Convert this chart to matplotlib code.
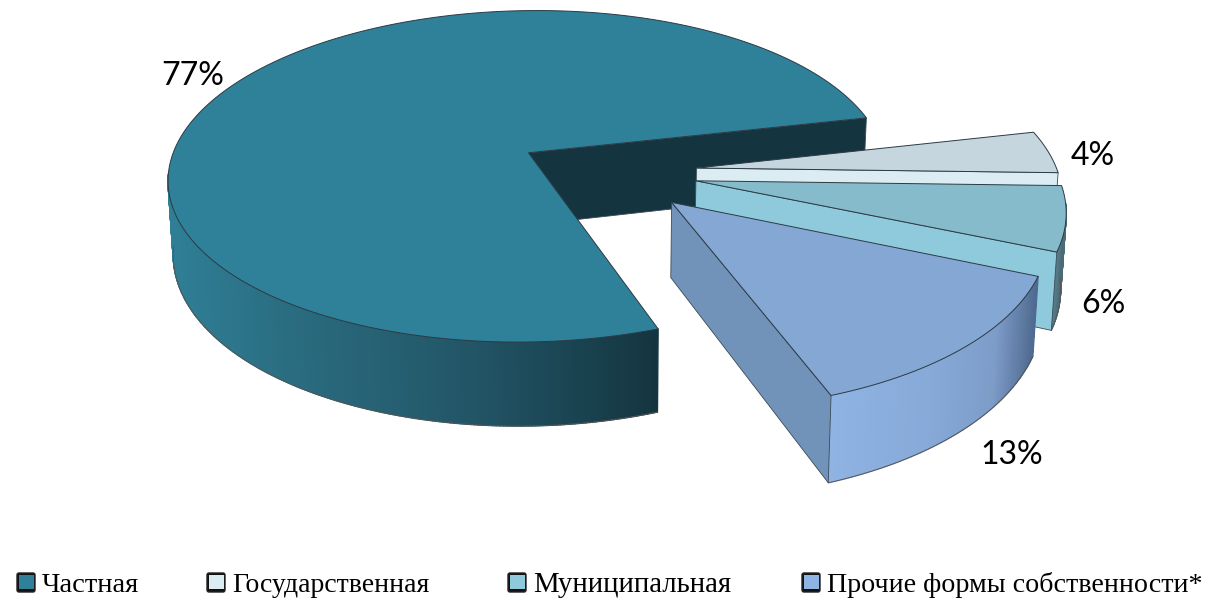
import numpy as np
import matplotlib
matplotlib.use('agg')
import matplotlib.pyplot as plt
from matplotlib.colors import LinearSegmentedColormap
from matplotlib.patches import Polygon, FancyBboxPatch

# data
categories = ['Частная', 'Государственная', 'Муниципальная', 'Прочие формы собственности*']
values = [77, 4, 6, 13]
labels = ['77%', '4%', '6%', '13%']

# pie geometry (camera fitted to the picture, pixels)
W, H = 1220, 605
CX, CY = 526.5, 152.0
A, B, K = 355.0, 162.2, 0.142
SHEAR = 10.0
DEPTH = 72.0
VX, SHRINK = 600.0, 0.988
START = 290.0
EXPLODE = 0.243
CENTER = (0.219, -0.121)
SLICE_SHIFT = [0.0, 0.014, 0.014, 0.014]

top_cols = ['#2f8099', '#c5d6de', '#85bbca', '#84a7d4']
cut_cols = ['#14353f', '#dbedf3', '#8fcadc', '#7293b9']
legend_cols = ['#2f8099', '#dbedf3', '#8fcadc', '#8fb3e2']
rim_stops = [
    [(0.0, '#2f7f96'), (0.25, '#2a6c80'), (0.62, '#225566'), (1.0, '#143540')],
    [(0.0, '#b5c6cc'), (1.0, '#8fa2aa')],
    [(0.0, '#5a7f8c'), (1.0, '#4a6a76')],
    [(0.0, '#8fb3e2'), (0.5, '#86a9d8'), (0.8, '#7d9cc8'), (1.0, '#4f6a90')],
]
label_pos = [(193, 85), (1093, 165), (1103, 313), (1012, 464)]
legend_x = [17, 207, 508, 802]
legend_size = [20.5, 20.0, 20.8, 20.2]


def project(x, y, down=False):
    x, y = np.asarray(x), np.asarray(y)
    w = 1 + K * y
    sx = CX + (A * x + SHEAR * y) / w
    sy = CY - B * y / w
    if down:
        sy = sy + DEPTH / w
        sx = VX + (sx - VX) * SHRINK
    return sx, sy


def quad(ax, x, y, color, **kw):
    sx, sy = project(x, y)
    bx, by = project(x, y, down=True)
    pts = np.column_stack([np.r_[sx, bx[::-1]], np.r_[sy, by[::-1]]])
    ax.add_patch(Polygon(pts, closed=True, facecolor=color, edgecolor=kw.get('ec', color),
                         lw=kw.get('lw', 1.0), zorder=kw.get('z', 1)))


def draw_slice(ax, t_hi, t_lo, i, z):
    mid = np.radians((t_hi + t_lo) / 2)
    ox = CENTER[0] + SLICE_SHIFT[i] + EXPLODE * np.cos(mid)
    oy = CENTER[1] + EXPLODE * np.sin(mid)
    ts = np.radians(np.linspace(t_lo, t_hi, max(int(t_hi - t_lo) * 2, 12)))
    rx = ox + np.cos(ts)
    ry = oy + np.sin(ts)

    # outer wall as narrow strips, shaded across its width
    front = np.sin(ts) < -0.12
    sx, _ = project(rx, ry)
    if front.sum() > 1:
        cmap = LinearSegmentedColormap.from_list('rim', rim_stops[i])
        lo, hi = sx[front].min(), sx[front].max()
        for j in range(len(ts) - 1):
            if front[j] and front[j + 1]:
                c = cmap((sx[j] - lo) / max(hi - lo, 1))
                quad(ax, rx[j:j + 2], ry[j:j + 2], c, z=z + 0.1)
        bx, by = project(rx[front], ry[front], down=True)
        ax.plot(bx, by, color='#555555', lw=0.7, zorder=z + 0.2)

    # radial cut faces, only those turned towards the viewer
    if np.sin(ts[0] - np.pi / 2) < 0:
        quad(ax, np.array([ox, rx[0]]), np.array([oy, ry[0]]), cut_cols[i],
             ec='#3a4a55', lw=0.6, z=z + 0.15)
    if np.sin(ts[-1] + np.pi / 2) < 0:
        quad(ax, np.array([ox, rx[-1]]), np.array([oy, ry[-1]]), cut_cols[i],
             ec='#3a4a55', lw=0.6, z=z + 0.15)

    # top face
    px, py = project(np.r_[ox, rx], np.r_[oy, ry])
    ax.add_patch(Polygon(np.column_stack([px, py]), closed=True, facecolor=top_cols[i],
                         edgecolor='#2c3a44', lw=0.7, zorder=z + 0.3))


fig = plt.figure(figsize=(W / 100, H / 100), dpi=100)
ax = fig.add_axes([0, 0, 1, 1])
ax.set_xlim(0, W)
ax.set_ylim(H, 0)
ax.axis('off')

t = START
for i, v in enumerate(values):
    draw_slice(ax, t, t - v * 3.6, i, 1 + i)
    t -= v * 3.6

for lab, (x, y) in zip(labels, label_pos):
    ax.text(x, y, lab, family='Lato', fontsize=23, ha='center', va='baseline',
            color='black', zorder=10)

for name, x, col, fs in zip(categories, legend_x, legend_cols, legend_size):
    ax.add_patch(FancyBboxPatch((x, 573), 18, 19, boxstyle='round,pad=0,rounding_size=2',
                                fc='#111111', ec='#222222', lw=1, zorder=10))
    ax.add_patch(plt.Rectangle((x + 1.5, 574.5), 15, 14, fc=col, ec='none', zorder=11))
    ax.text(x + 25, 592, name, family='Liberation Serif', fontsize=fs, ha='left',
            va='baseline', color='black', zorder=10)

fig.savefig('out.png', dpi=100, facecolor='white')
plt.close()
